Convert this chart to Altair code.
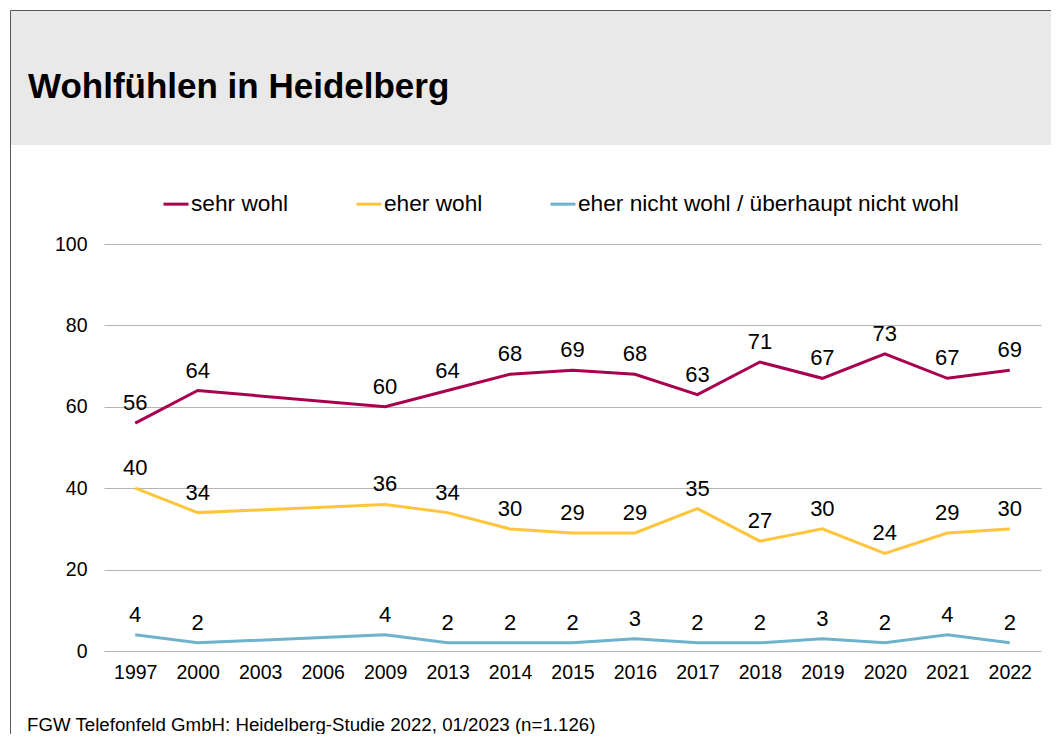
import altair as alt
import pandas as pd

years = ["1997", "2000", "2003", "2006", "2009", "2013", "2014", "2015",
         "2016", "2017", "2018", "2019", "2020", "2021", "2022"]
sehr_wohl = [56, 64, None, None, 60, 64, 68, 69, 68, 63, 71, 67, 73, 67, 69]
eher_wohl = [40, 34, None, None, 36, 34, 30, 29, 29, 35, 27, 30, 24, 29, 30]
nicht_wohl = [4, 2, None, None, 4, 2, 2, 2, 3, 2, 2, 3, 2, 4, 2]

series_names = ["sehr wohl", "eher wohl", "eher nicht wohl / überhaupt nicht wohl"]
series_colors = ["#A8004F", "#FFC53D", "#6FB2CB"]
title_text = "Wohlfühlen in Heidelberg"
footer_text = "FGW Telefonfeld GmbH: Heidelberg-Studie 2022, 01/2023 (n=1.126)"

rows = []
for name, vals in zip(series_names, [sehr_wohl, eher_wohl, nicht_wohl]):
    for y, v in zip(years, vals):
        if v is not None:
            rows.append({"Jahr": y, "Wert": v, "Serie": name})
df = pd.DataFrame(rows)

W, H = 937, 407
FONT = "Liberation Sans"

x_enc = alt.X("Jahr:N", sort=years,
              scale=alt.Scale(type="point", domain=years, padding=0.5),
              axis=alt.Axis(title=None, labelAngle=0, domain=False, ticks=False,
                            labelPadding=12, labelFontSize=19.5, labelColor="#000000",
                            grid=False))
y_enc = alt.Y("Wert:Q", scale=alt.Scale(domain=[0, 100], nice=False),
              axis=alt.Axis(title=None, values=[0, 20, 40, 60, 80, 100], domain=False,
                            ticks=False, labelPadding=17, labelFontSize=19.5,
                            labelColor="#000000", grid=True, gridColor="#B4B4B4",
                            gridWidth=1))

one = pd.DataFrame({"k": [0]})

header = alt.Chart(one).mark_rect(color="#E9E9E9").encode(
    x=alt.value(-94), x2=alt.value(W + 30), y=alt.value(-234), y2=alt.value(-99))
frame = alt.Chart(one).mark_rect(fillOpacity=0, stroke="#5A5A5A", strokeWidth=1).encode(
    x=alt.value(-93.5), x2=alt.value(W + 60), y=alt.value(-233.5), y2=alt.value(H + 200))
title = alt.Chart(one).mark_text(align="left", baseline="alphabetic", fontSize=35,
                                 fontWeight="bold", font=FONT, color="#000000").encode(
    x=alt.value(-76), y=alt.value(-146), text=alt.value(title_text))
footer = alt.Chart(one).mark_text(align="left", baseline="alphabetic", fontSize=18.7,
                                  font=FONT, color="#000000").encode(
    x=alt.value(-77), y=alt.value(487), text=alt.value(footer_text))

lines = alt.Chart(df).mark_line(strokeWidth=3).encode(
    x=x_enc, y=y_enc,
    color=alt.Color("Serie:N", sort=series_names,
                    scale=alt.Scale(domain=series_names, range=series_colors),
                    legend=alt.Legend(title=None, orient="none", legendX=58, legendY=-54,
                                      direction="horizontal", symbolType="stroke",
                                      symbolSize=625, symbolStrokeWidth=3,
                                      labelFontSize=22.7, labelColor="#000000",
                                      labelOffset=1, columnPadding=61, labelLimit=600)),
    detail="Serie:N")

labels = alt.Chart(df).mark_text(dy=-20, fontSize=22, font=FONT, color="#000000",
                                 baseline="middle").encode(
    x=alt.X("Jahr:N", sort=years), y="Wert:Q", text="Wert:Q")

chart = alt.layer(header, frame, title, footer, lines, labels).properties(
    width=W, height=H,
    autosize=alt.AutoSizeParams(type="none"),
    padding={"left": 96, "top": 236, "right": 10, "bottom": 83},
).configure(font=FONT).configure_view(stroke=None)

chart.save("out.html", embed_options={"renderer": "svg", "actions": False})
